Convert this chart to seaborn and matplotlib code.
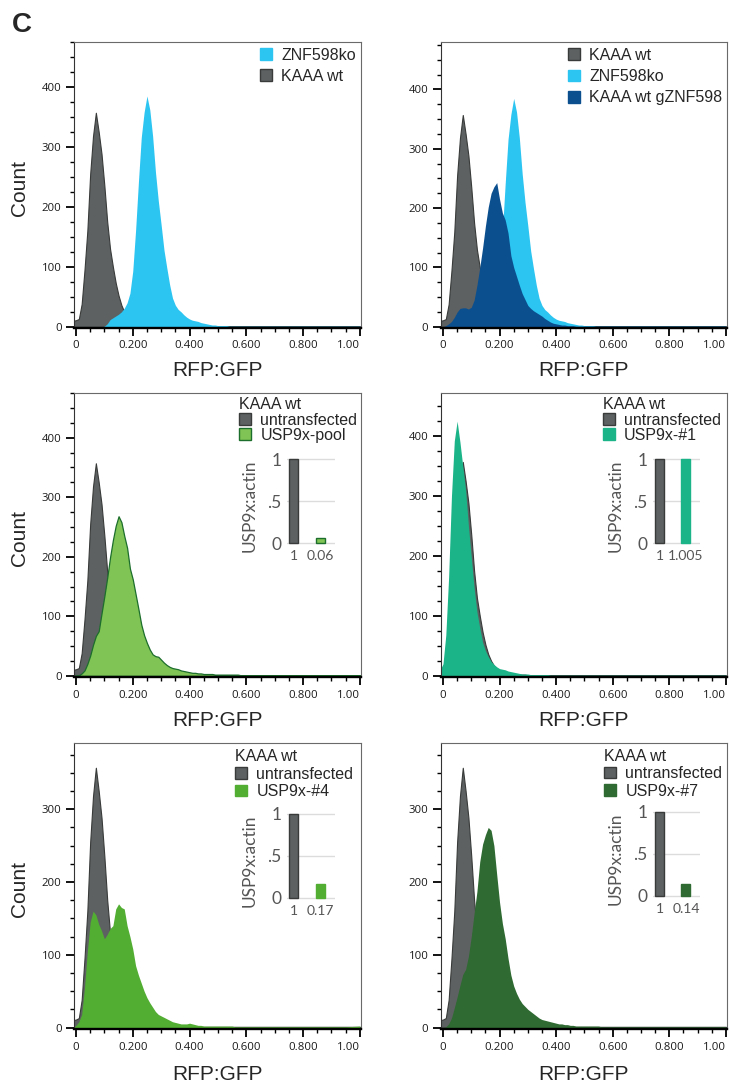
import numpy as np
import pandas as pd
import matplotlib
matplotlib.use("Agg")
import matplotlib.pyplot as plt
import seaborn as sns
from matplotlib.patches import Patch
from matplotlib.ticker import MultipleLocator

sns.set_theme(style="ticks")
plt.rcParams["font.family"] = ["Liberation Sans", "DejaVu Sans"]

# ---------------------------------------------------------------- data
# RFP:GFP bin centres: fine bins up to 0.60, coarse bins for the flat tail
ratio = np.concatenate([np.round(np.arange(-0.01, 0.605, 0.01), 2),
                        [0.65, 0.70, 0.75, 0.80, 0.85, 0.90, 0.95, 1.00]])

# cell counts per bin
kaaa_wt = [
    10, 11, 13, 38, 95, 160, 255, 318, 357, 325,
    288, 235, 175, 130, 100, 73, 52, 36, 25, 17,
    12, 8, 6, 5, 4, 3, 3, 2, 2, 2,
    2, 1, 1, 1, 1, 1, 1, 1, 1, 1,
    1, 1, 1, 1, 1, 1, 1, 1, 1, 1,
    1, 1, 1, 1, 1, 1, 1, 1, 1, 1,
    1, 1,
    1, 1, 1, 1, 1, 1, 1, 1]

znf598ko = [
    0, 0, 0, 0, 0, 0, 0, 0, 0, 0,
    0, 1, 5, 12, 15, 18, 21, 25, 31, 40,
    56, 93, 161, 242, 316, 358, 385, 362, 318, 258,
    210, 170, 128, 98, 70, 48, 36, 29, 25, 20,
    16, 13, 11, 10, 9, 7, 6, 5, 4, 3,
    3, 2, 2, 2, 2, 1, 1, 1, 1, 1,
    1, 1,
    1, 1, 1, 1, 1, 1, 1, 1]

kaaa_wt_gznf598 = [
    0, 0, 2, 5, 9, 16, 25, 31, 32, 32,
    30, 33, 45, 70, 100, 133, 170, 202, 225, 236,
    243, 215, 192, 180, 158, 120, 100, 85, 70, 56,
    46, 36, 31, 27, 24, 21, 18, 14, 11, 8,
    6, 5, 4, 3, 3, 2, 2, 2, 1, 1,
    1, 1, 1, 1, 1, 1, 1, 1, 1, 1,
    1, 1,
    1, 1, 1, 1, 1, 1, 1, 1]

usp9x_pool = [
    0, 0, 1, 4, 9, 20, 34, 52, 67, 75,
    105, 134, 165, 199, 228, 252, 268, 258, 235, 215,
    180, 162, 137, 112, 86, 68, 55, 44, 36, 33,
    32, 27, 22, 18, 15, 13, 12, 11, 9, 8,
    7, 6, 5, 5, 4, 4, 3, 3, 3, 3,
    2, 2, 2, 2, 2, 2, 2, 2, 2, 1,
    1, 1,
    1, 1, 1, 1, 1, 1, 1, 1]

usp9x_1 = [
    10, 20, 68, 165, 300, 392, 425, 390, 350, 310,
    250, 198, 147, 107, 80, 56, 42, 32, 24, 19,
    15, 12, 11, 10, 8, 7, 6, 5, 4, 3,
    3, 3, 2, 2, 2, 2, 2, 2, 2, 1,
    1, 1, 1, 1, 1, 1, 1, 1, 1, 1,
    1, 1, 1, 1, 1, 1, 1, 1, 1, 1,
    1, 1,
    1, 1, 1, 1, 1, 1, 1, 1]

usp9x_4 = [
    0, 3, 8, 18, 55, 105, 145, 160, 155, 142,
    133, 122, 128, 136, 140, 163, 170, 165, 163, 140,
    125, 108, 85, 72, 61, 50, 41, 34, 28, 22,
    18, 16, 14, 12, 10, 8, 7, 6, 5, 5,
    5, 6, 5, 4, 3, 3, 2, 2, 2, 2,
    2, 2, 2, 2, 2, 2, 2, 1, 1, 1,
    1, 1,
    1, 1, 1, 1, 1, 1, 1, 2]

usp9x_7 = [
    0, 0, 1, 5, 13, 27, 42, 58, 73, 80,
    98, 125, 157, 187, 228, 252, 265, 275, 271, 250,
    210, 172, 143, 122, 95, 72, 57, 47, 39, 33,
    29, 25, 22, 19, 16, 13, 11, 10, 9, 8,
    7, 6, 5, 5, 4, 4, 3, 3, 2, 2,
    2, 2, 2, 2, 2, 2, 2, 1, 1, 1,
    1, 1,
    1, 1, 1, 1, 1, 1, 1, 1]

# USP9x:actin western blot quantification (untransfected vs. knockdown)
untransfected_level = 1.0
pool_level = 0.06
clone1_level = 1.005
clone4_level = 0.17
clone7_level = 0.14

x_major = [0, 0.2, 0.4, 0.6, 0.8, 1.0]
x_major_labels = ["0", "0.200", "0.400", "0.600", "0.800", "1.00"]

# ---------------------------------------------------------------- colours
GRAY, GRAY_EDGE = "#5e6161", "#393b3b"
SKY = "#2cc4f1"
NAVY = "#0b4f8f"
POOL, POOL_EDGE = "#80c455", "#1c6e2c"
TEAL = "#1bb388"
GREEN4 = "#52ad33"
GREEN7 = "#2e6a31"

# ---------------------------------------------------------------- helpers
W, H = 731, 1090
fig = plt.figure(figsize=(W / 100, H / 100), dpi=100)


def px_axes(x0, y0, x1, y1):
    return fig.add_axes([x0 / W, 1 - y1 / H, (x1 - x0) / W, (y1 - y0) / H])


edges = np.concatenate([[ratio[0] - 0.005], (ratio[1:] + ratio[:-1]) / 2,
                        [ratio[-1] + 0.025]]).tolist()


def draw_hist(ax, counts, color, edge=None, lw=0.0):
    df = pd.DataFrame({"ratio": ratio, "count": np.asarray(counts, float)})
    sns.histplot(data=df, x="ratio", weights="count", bins=edges,
                 element="poly", fill=True, color=color, alpha=1,
                 edgecolor=edge if edge else color, linewidth=lw, ax=ax)


def style_main(ax, ymax, yticks, show_ylabel, xlabel_y):
    ax.set_xlim(-0.007, 1.004)
    ax.set_ylim(-2, ymax)
    ax.set_xticks(x_major)
    ax.set_xticklabels(x_major_labels)
    ax.xaxis.set_minor_locator(MultipleLocator(0.05))
    ax.set_yticks(yticks)
    ax.set_yticklabels([str(t) for t in yticks])
    ax.yaxis.set_minor_locator(MultipleLocator(25))
    ax.tick_params(which="major", direction="out", length=5.5, width=1.3,
                   color="black", labelcolor="#1a1a1a", labelsize=8.2, pad=3.5)
    ax.tick_params(which="minor", direction="out", length=2.8, width=1.0,
                   color="black")
    for lab in ax.get_xticklabels() + ax.get_yticklabels():
        lab.set_fontfamily(["Open Sans", "DejaVu Sans"])
    # keep the last x label inside the frame
    ax.get_xticklabels()[-1].set_horizontalalignment("right")
    for side in ("top", "right"):
        ax.spines[side].set_color("#6a6a6a")
        ax.spines[side].set_linewidth(0.8)
    ax.spines["left"].set_color("#333333")
    ax.spines["left"].set_linewidth(0.8)
    ax.spines["bottom"].set_color("black")
    ax.spines["bottom"].set_linewidth(1.7)
    ax.set_xlabel("RFP:GFP", fontsize=15)
    ax.xaxis.set_label_coords(0.5, xlabel_y)
    if show_ylabel:
        ax.set_ylabel("Count", fontsize=15)
        ax.yaxis.set_label_coords(-0.158, 0.49)
    else:
        ax.set_ylabel("")


def add_legend(ax, entries, anchor, title=None, spacing=0.2):
    handles = [Patch(facecolor=f, edgecolor=e, linewidth=1.0) for _, f, e in entries]
    labels = [t for t, _, _ in entries]
    ax.legend(handles, labels, title=title, loc="upper left",
              bbox_to_anchor=anchor, frameon=False, fontsize=11.5,
              title_fontsize=11.5, handlelength=0.78, handleheight=0.75,
              handletextpad=0.55, labelspacing=spacing, borderpad=0,
              borderaxespad=0, alignment="left")


def add_inset(x0, x1, y0, labels, values, colors, bar_edges):
    unit = 84
    ax_in = px_axes(x0, y0 - 1.02 * unit, x1, y0 + 0.02 * unit)
    sns.barplot(x=labels, y=values, hue=labels, palette=colors, legend=False,
                width=0.34, saturation=1, ax=ax_in)
    for bar, ec in zip(ax_in.patches, bar_edges):
        bar.set_edgecolor(ec)
        bar.set_linewidth(1.0)
    ax_in.set_xlim(-0.26, 1.54)
    ax_in.set_ylim(-0.02, 1.02)
    ax_in.set_yticks([0, 0.5, 1])
    ax_in.set_yticklabels(["0", ".5", "1"])
    ax_in.set_axisbelow(True)
    ax_in.yaxis.grid(True, color="#dcdcdc", linewidth=1.0)
    ax_in.xaxis.grid(False)
    ax_in.patch.set_alpha(0)
    for s in ax_in.spines.values():
        s.set_visible(False)
    ax_in.tick_params(axis="y", length=0, pad=4, labelsize=12.5,
                      labelcolor="#555555")
    ax_in.tick_params(axis="x", length=0, pad=4, labelsize=10,
                      labelcolor="#555555")
    for lab in ax_in.get_xticklabels() + ax_in.get_yticklabels():
        lab.set_fontfamily(["Lato", "DejaVu Sans"])
    ax_in.set_xlabel("")
    ax_in.set_ylabel("USP9x:actin", fontsize=12.5, color="#555555",
                     family=["Lato", "DejaVu Sans"])
    ax_in.yaxis.set_label_coords(-0.62, 0.44)


cols = [(74, 361), (441, 727)]
rows = [(42, 328), (393, 677), (743, 1029)]

# ---------------------------------------------------------------- row 1
ax = px_axes(cols[0][0], rows[0][0], cols[0][1], rows[0][1])
draw_hist(ax, kaaa_wt, GRAY, GRAY_EDGE, 0.8)
draw_hist(ax, znf598ko, SKY)
style_main(ax, 475, [0, 100, 200, 300, 400], True, -0.115)
add_legend(ax, [("ZNF598ko", SKY, SKY), ("KAAA wt", GRAY, GRAY_EDGE)],
           (0.648, 0.98), spacing=0.38)

ax = px_axes(cols[1][0], rows[0][0], cols[1][1], rows[0][1])
draw_hist(ax, kaaa_wt, GRAY, GRAY_EDGE, 0.8)
draw_hist(ax, znf598ko, SKY)
draw_hist(ax, kaaa_wt_gznf598, NAVY)
style_main(ax, 480, [0, 100, 200, 300, 400], False, -0.115)
add_legend(ax, [("KAAA wt", GRAY, GRAY_EDGE), ("ZNF598ko", SKY, SKY),
                ("KAAA wt gZNF598", NAVY, NAVY)], (0.444, 0.98), spacing=0.4)

# ---------------------------------------------------------------- row 2
ax = px_axes(cols[0][0], rows[1][0], cols[0][1], rows[1][1])
draw_hist(ax, kaaa_wt, GRAY, GRAY_EDGE, 0.8)
draw_hist(ax, usp9x_pool, POOL, POOL_EDGE, 0.9)
style_main(ax, 475, [0, 100, 200, 300, 400], True, -0.118)
add_legend(ax, [("untransfected", GRAY, GRAY_EDGE),
                ("USP9x-pool", POOL, POOL_EDGE)], (0.575, 0.985),
           title="KAAA wt", spacing=0.02)
add_inset(287, 335, 543, ["1", "0.06"], [untransfected_level, pool_level],
          [GRAY, POOL], [GRAY_EDGE, POOL_EDGE])

ax = px_axes(cols[1][0], rows[1][0], cols[1][1], rows[1][1])
draw_hist(ax, kaaa_wt, GRAY, GRAY_EDGE, 0.8)
draw_hist(ax, usp9x_1, TEAL)
style_main(ax, 472, [0, 100, 200, 300, 400], False, -0.118)
add_legend(ax, [("untransfected", GRAY, GRAY_EDGE),
                ("USP9x-#1", TEAL, TEAL)], (0.566, 0.985),
           title="KAAA wt", spacing=0.02)
add_inset(653, 700, 543, ["1", "1.005"], [untransfected_level, clone1_level],
          [GRAY, TEAL], [GRAY_EDGE, TEAL])

# ---------------------------------------------------------------- row 3
ax = px_axes(cols[0][0], rows[2][0], cols[0][1], rows[2][1])
draw_hist(ax, kaaa_wt, GRAY, GRAY_EDGE, 0.8)
draw_hist(ax, usp9x_4, GREEN4)
style_main(ax, 391, [0, 100, 200, 300], True, -0.125)
add_legend(ax, [("untransfected", GRAY, GRAY_EDGE),
                ("USP9x-#4", GREEN4, GREEN4)], (0.561, 0.978),
           title="KAAA wt", spacing=0.15)
add_inset(287, 335, 898, ["1", "0.17"], [untransfected_level, clone4_level],
          [GRAY, GREEN4], [GRAY_EDGE, GREEN4])

ax = px_axes(cols[1][0], rows[2][0], cols[1][1], rows[2][1])
draw_hist(ax, kaaa_wt, GRAY, GRAY_EDGE, 0.8)
draw_hist(ax, usp9x_7, GREEN7)
style_main(ax, 391, [0, 100, 200, 300], False, -0.125)
add_legend(ax, [("untransfected", GRAY, GRAY_EDGE),
                ("USP9x-#7", GREEN7, GREEN7)], (0.57, 0.98),
           title="KAAA wt", spacing=0.15)
add_inset(653, 700, 896, ["1", "0.14"], [untransfected_level, clone7_level],
          [GRAY, GREEN7], [GRAY_EDGE, GREEN7])

fig.text(12 / W, 1 - 12 / H, "C", fontsize=20, fontweight="bold", va="top",
         ha="left")

fig.savefig("out.png", dpi=100)
